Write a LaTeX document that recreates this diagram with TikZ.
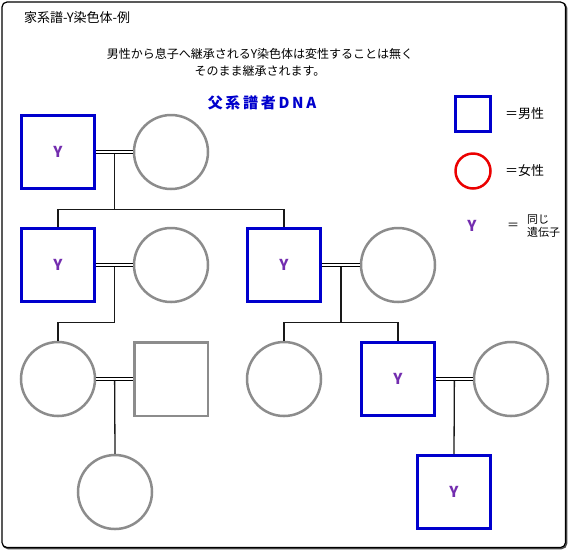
\documentclass[tikz,border=0pt]{standalone}
\usepackage{fontspec}
\setmainfont{Noto Sans CJK JP}
\newfontfamily\headfont[LetterSpace=18]{Noto Sans CJK JP}
\usetikzlibrary{calc}
\definecolor{mblue}{RGB}{0,0,205}
\definecolor{fgray}{RGB}{140,140,140}
\definecolor{ypurp}{RGB}{115,45,175}
\definecolor{fred}{RGB}{235,0,0}
\tikzset{
  male/.style={draw=mblue,line width=3pt,minimum size=73pt,inner sep=0pt,font=\fontsize{15}{15}\selectfont\bfseries,text=ypurp},
  grmale/.style={draw=fgray,line width=2.5pt,minimum size=73.5pt,inner sep=0pt},
  female/.style={draw=fgray,circle,line width=2.5pt,minimum size=74pt,inner sep=0pt},
  marr/.style={draw=black,double=white,double distance=2pt,line width=1pt},
  desc/.style={draw=black!90,line width=1.3pt},
  txt/.style={inner sep=0pt,anchor=center}
}
\begin{document}
\begin{tikzpicture}[x=1pt,y=-1pt]
\useasboundingbox (0,0) rectangle (569,550);
% frame
\draw[black!70,line width=1.5pt,rounded corners=5pt] (3,3) rectangle (566.5,548.5);
\draw[black,line width=1.2pt,rounded corners=5pt,fill=white] (2,2) rectangle (565.5,547.5);
% texts
\node[txt,anchor=west,font=\fontsize{13}{13}\selectfont] (title) at (24,18) {家系譜-Y染色体-例};
\node[txt,font=\fontsize{12}{17}\selectfont,align=center] (sub) at (260,62) {男性から息子へ継承されるY染色体は変性することは無く\\そのまま継承されます。};
\node[txt,font=\headfont\fontsize{15}{15}\selectfont\bfseries,text=mblue] (head) at (262,103) {父系譜者DNA};
% legend
\node[male,minimum size=35pt] (lm) at (473,114) {};
\node[txt,anchor=west,font=\fontsize{13}{13}\selectfont] (lmt) at (505,114) {＝男性};
\node[draw=fred,circle,line width=2.5pt,minimum size=35pt,inner sep=0pt] (lf) at (473,171) {};
\node[txt,anchor=west,font=\fontsize{13}{13}\selectfont] (lft) at (505,171) {＝女性};
\node[txt,font=\fontsize{15}{15}\selectfont\bfseries,text=ypurp] (ly) at (472,226) {Y};
\node[txt,font=\fontsize{12}{12}\selectfont] (leq) at (513,226) {＝};
\node[txt,anchor=west,font=\fontsize{11}{13}\selectfont,align=left] (lyt) at (527,226) {同じ\\遺伝子};
% gen 1
\node[male] (s1) at (58,152) {Y};
\node[female] (c1) at (171,152) {};
% gen 2
\node[male] (s2) at (58,265) {Y};
\node[female] (c2) at (171,265) {};
\node[male] (s3) at (284,265) {Y};
\node[female] (c3) at (398,265) {};
% gen 3
\node[female] (c4) at (58,379) {};
\node[grmale] (s4) at (171,379) {};
\node[female] (c6) at (284,379) {};
\node[male] (s5) at (398,379) {Y};
\node[female] (c7) at (511,379) {};
% gen 4
\node[female] (c5) at (115,492) {};
\node[male] (s6) at (454,492) {Y};
% marriages
\draw[marr] (s1.east) -- (c1.west);
\draw[marr] (s2.east) -- (c2.west);
\draw[marr] (s3.east) -- (c3.west);
\draw[marr] (c4.east) -- (s4.west);
\draw[marr] (s5.east) -- (c7.west);
% descent
\coordinate (m1) at ($(s1.east)!0.5!(c1.west)+(0,1.5)$);
\coordinate (j1) at ($(m1)+(0,56)$);
\draw[desc] (m1) -- (j1);
\draw[desc] (s2.north) |- (j1);
\draw[desc] (s3.north) |- (j1);
\coordinate (m2) at ($(s2.east)!0.5!(c2.west)+(0,1.5)$);
\coordinate (j2) at ($(m2)+(0,56)$);
\draw[desc] (m2) -- (j2);
\draw[desc] (c4.north) |- (j2);
\coordinate (m3) at ($(s3.east)!0.5!(c3.west)+(0,1.5)$);
\coordinate (j3) at ($(m3)+(0,56)$);
\draw[desc] (m3) -- (j3);
\draw[desc] (c6.north) |- (j3);
\draw[desc] (s5.north) |- (j3);
\coordinate (m4) at ($(c4.east)!0.5!(s4.west)+(0,1.5)$);
\draw[desc] (m4) -- (c5.north);
\coordinate (m5) at ($(s5.east)!0.5!(c7.west)+(0,1.5)$);
\draw[desc] (m5) -- (s6.north);
\end{tikzpicture}
\end{document}
